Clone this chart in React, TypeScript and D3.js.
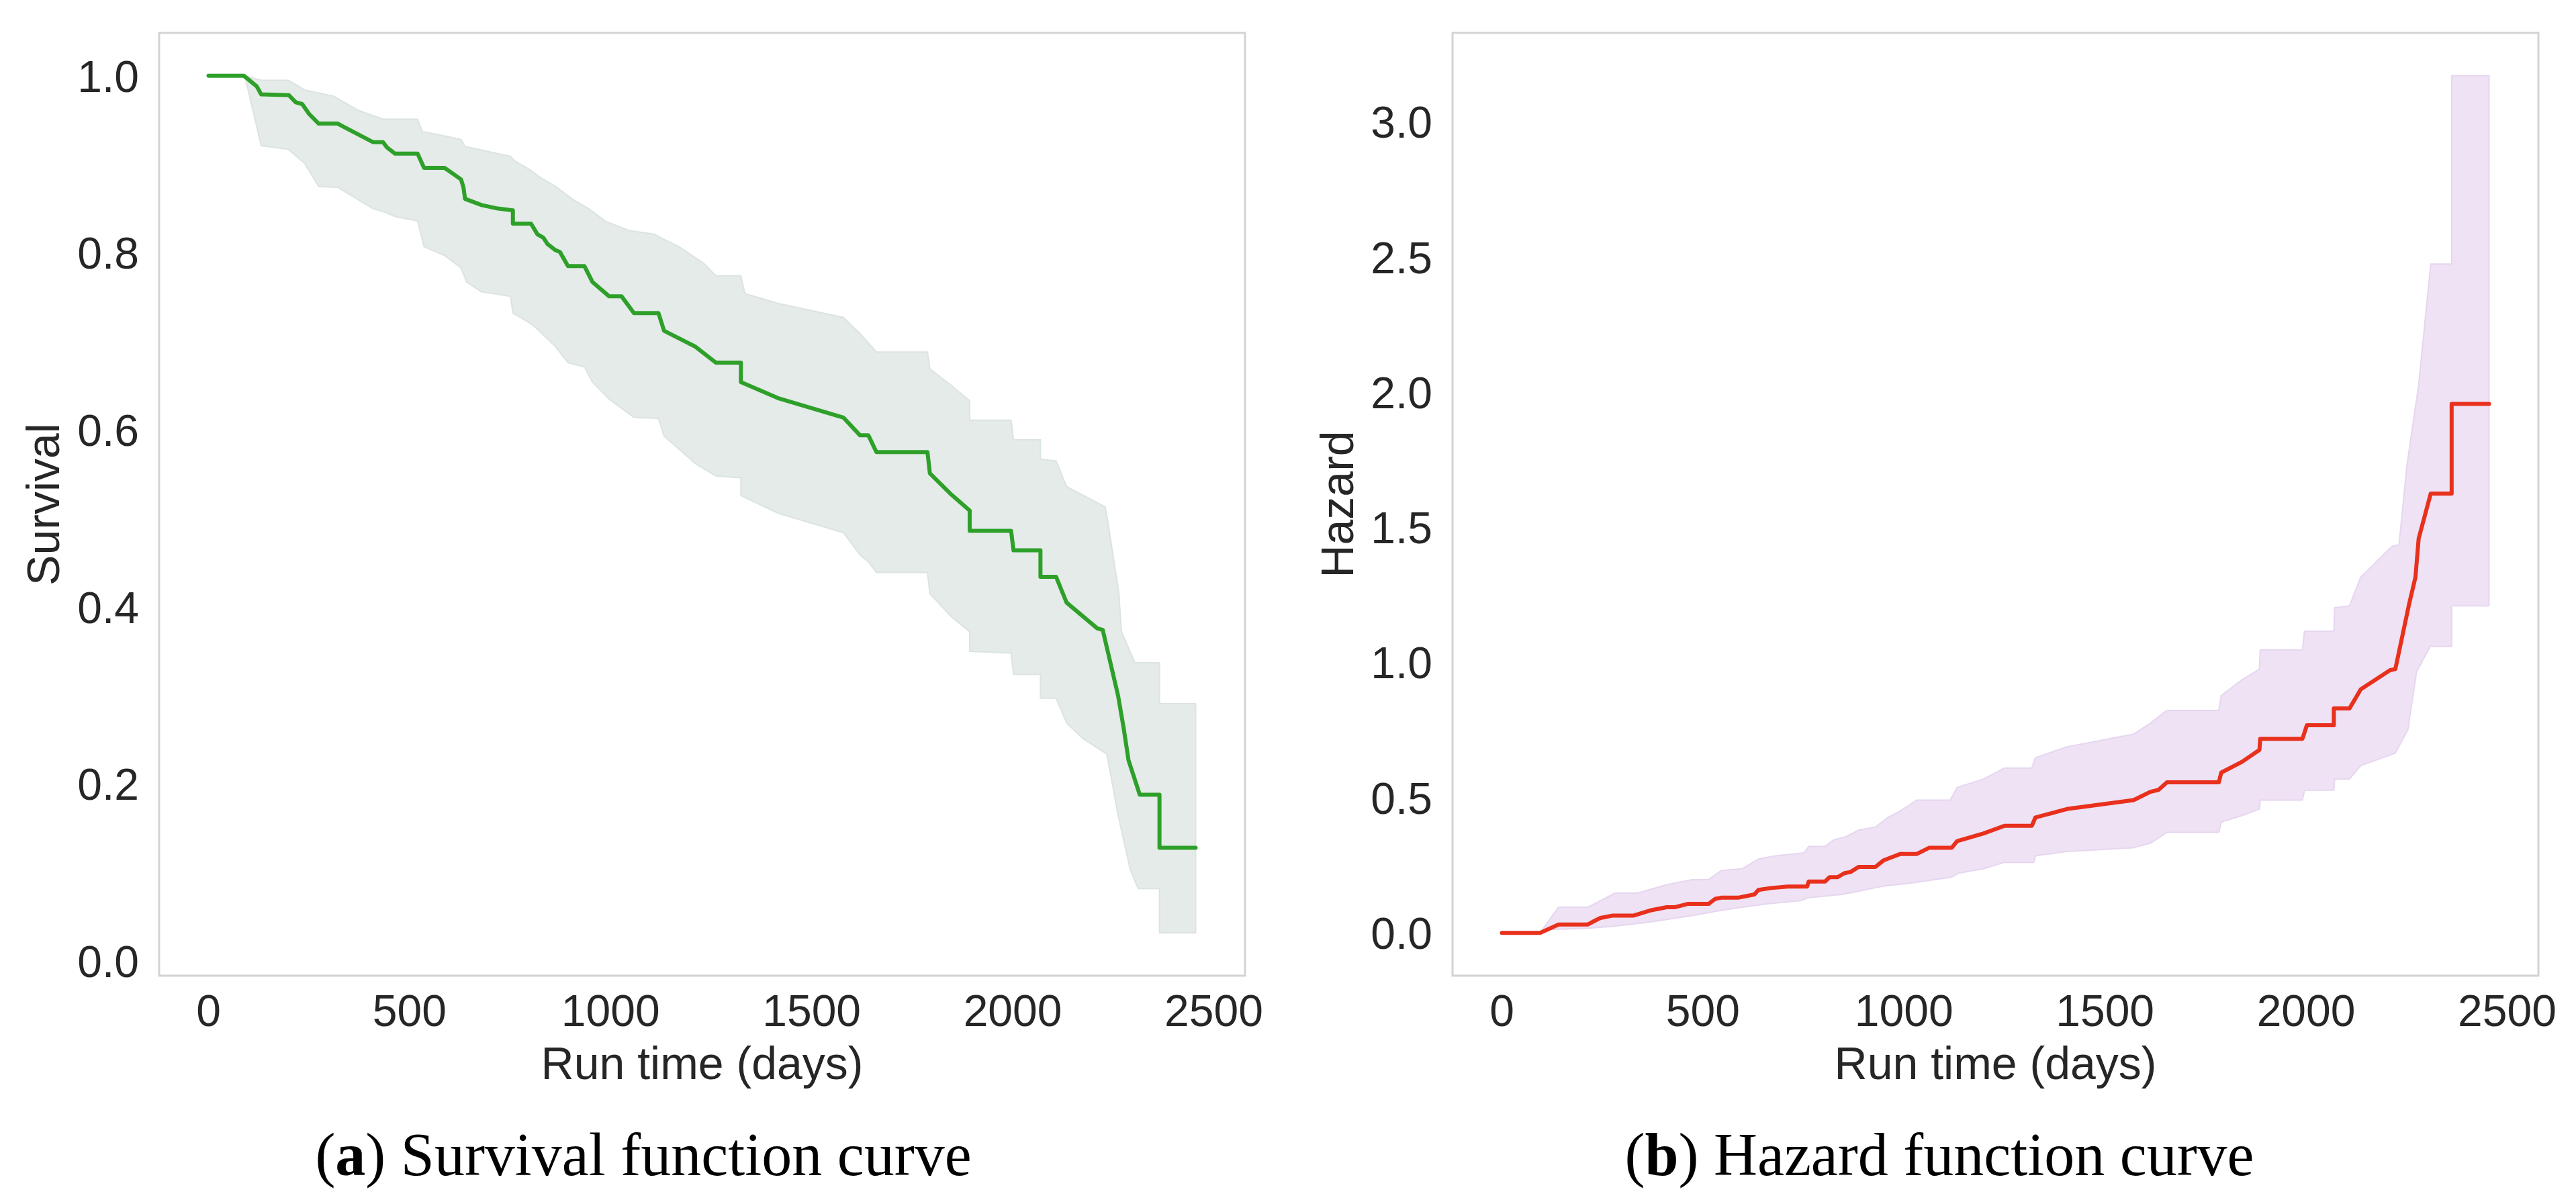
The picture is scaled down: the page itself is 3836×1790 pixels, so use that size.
import React from 'react';
import * as d3 from 'd3';

type Pt = [number, number];

// ---- Data (run time in days, value) ----
const survivalLine: Pt[] = [
  [0, 1.0], [88, 1.0], [120, 0.988], [131, 0.979], [200, 0.978], [217, 0.970], [233, 0.968], [250, 0.957],
  [274, 0.946], [321, 0.946], [409, 0.925], [434, 0.925], [444, 0.919], [464, 0.912], [520, 0.912],
  [536, 0.896], [587, 0.896], [628, 0.883], [634, 0.874], [638, 0.861], [679, 0.854], [720, 0.850],
  [757, 0.848], [757, 0.833], [802, 0.833], [818, 0.821], [833, 0.817], [843, 0.810], [863, 0.803],
  [874, 0.801], [894, 0.785], [935, 0.785], [955, 0.767], [996, 0.751], [1027, 0.751], [1058, 0.732],
  [1119, 0.732], [1133, 0.712], [1211, 0.694], [1262, 0.676], [1324, 0.676], [1324, 0.654], [1416, 0.636],
  [1579, 0.614], [1620, 0.594], [1641, 0.594], [1661, 0.575], [1788, 0.575], [1794, 0.551], [1845, 0.528],
  [1893, 0.509], [1893, 0.486], [1996, 0.486], [2002, 0.464], [2069, 0.464], [2069, 0.434], [2108, 0.434],
  [2134, 0.405], [2210, 0.376], [2224, 0.374], [2262, 0.300], [2276, 0.263], [2288, 0.227], [2316, 0.188],
  [2365, 0.188], [2365, 0.128], [2455, 0.128],
];
const survivalUpper: Pt[] = [
  [90, 1.0], [131, 0.995], [198, 0.995], [239, 0.984], [311, 0.977], [372, 0.961], [434, 0.951], [520, 0.951],
  [532, 0.937], [577, 0.933], [628, 0.928], [638, 0.920], [751, 0.909], [761, 0.904], [802, 0.893],
  [822, 0.886], [863, 0.875], [904, 0.861], [945, 0.850], [986, 0.836], [1047, 0.825], [1109, 0.821],
  [1125, 0.817], [1170, 0.807], [1232, 0.788], [1262, 0.774], [1324, 0.774], [1334, 0.754], [1416, 0.743],
  [1579, 0.727], [1620, 0.709], [1661, 0.688], [1788, 0.688], [1794, 0.669], [1845, 0.651], [1893, 0.633],
  [1893, 0.611], [1996, 0.611], [2002, 0.589], [2069, 0.589], [2069, 0.567], [2108, 0.565], [2134, 0.536],
  [2230, 0.513], [2237, 0.495], [2264, 0.416], [2270, 0.373], [2304, 0.337], [2365, 0.337], [2365, 0.291],
  [2455, 0.291],
];
const survivalLower: Pt[] = [
  [90, 1.0], [117, 0.948], [131, 0.921], [198, 0.917], [239, 0.901], [274, 0.875], [321, 0.874], [409, 0.850],
  [438, 0.846], [464, 0.841], [520, 0.836], [536, 0.807], [587, 0.797], [628, 0.783], [642, 0.767],
  [679, 0.756], [751, 0.751], [757, 0.732], [802, 0.720], [822, 0.712], [863, 0.694], [894, 0.676],
  [935, 0.671], [955, 0.654], [996, 0.635], [1058, 0.614], [1119, 0.613], [1133, 0.593], [1211, 0.562],
  [1262, 0.548], [1324, 0.546], [1324, 0.526], [1416, 0.506], [1579, 0.484], [1620, 0.459], [1641, 0.451],
  [1661, 0.439], [1788, 0.439], [1794, 0.415], [1845, 0.390], [1893, 0.372], [1893, 0.350], [1996, 0.348],
  [2002, 0.324], [2069, 0.324], [2069, 0.297], [2108, 0.297], [2134, 0.269], [2176, 0.251], [2210, 0.241],
  [2234, 0.234], [2262, 0.165], [2292, 0.104], [2312, 0.082], [2365, 0.082], [2365, 0.032], [2455, 0.032],
];

const hazardLine: Pt[] = [
  [0, 0], [95, 0], [131, 0.024], [141, 0.031], [214, 0.031], [234, 0.047], [245, 0.055], [276, 0.064],
  [328, 0.064], [369, 0.083], [410, 0.095], [431, 0.095], [462, 0.107], [514, 0.107], [531, 0.126],
  [545, 0.130], [587, 0.130], [628, 0.142], [638, 0.159], [670, 0.166], [711, 0.171], [759, 0.171],
  [763, 0.190], [804, 0.190], [815, 0.206], [835, 0.206], [852, 0.221], [867, 0.225], [887, 0.244],
  [929, 0.244], [949, 0.268], [991, 0.292], [1032, 0.292], [1063, 0.315], [1119, 0.315], [1132, 0.339],
  [1198, 0.368], [1250, 0.396], [1318, 0.396], [1327, 0.427], [1405, 0.458], [1571, 0.491], [1613, 0.522],
  [1633, 0.529], [1654, 0.557], [1783, 0.557], [1789, 0.593], [1841, 0.633], [1884, 0.677], [1886, 0.718],
  [1991, 0.718], [2002, 0.768], [2069, 0.768], [2069, 0.830], [2108, 0.830], [2136, 0.901], [2209, 0.972],
  [2222, 0.976], [2256, 1.215], [2272, 1.316], [2280, 1.459], [2310, 1.625], [2362, 1.625], [2362, 1.957],
  [2455, 1.957],
];
const hazardUpper: Pt[] = [
  [95, 0], [141, 0.095], [214, 0.095], [282, 0.147], [338, 0.147], [410, 0.178], [473, 0.197], [514, 0.197],
  [545, 0.230], [597, 0.237], [638, 0.273], [680, 0.285], [752, 0.296], [763, 0.320], [804, 0.320],
  [825, 0.344], [856, 0.356], [887, 0.380], [929, 0.391], [960, 0.427], [991, 0.451], [1032, 0.491],
  [1115, 0.491], [1132, 0.538], [1198, 0.569], [1250, 0.610], [1318, 0.610], [1327, 0.648], [1405, 0.688],
  [1571, 0.735], [1613, 0.776], [1654, 0.823], [1783, 0.823], [1789, 0.878], [1841, 0.937], [1884, 0.975],
  [1886, 1.047], [1991, 1.047], [1996, 1.116], [2069, 1.116], [2071, 1.203], [2108, 1.210], [2136, 1.316],
  [2214, 1.430], [2231, 1.435], [2251, 1.732], [2280, 2.028], [2310, 2.474], [2362, 2.474], [2362, 3.171],
  [2455, 3.171],
];
const hazardLower: Pt[] = [
  [95, 0], [120, 0.012], [214, 0.017], [276, 0.024], [369, 0.040], [473, 0.064], [545, 0.083], [597, 0.095],
  [659, 0.107], [742, 0.119], [763, 0.130], [846, 0.142], [887, 0.154], [949, 0.173], [1012, 0.183],
  [1119, 0.206], [1136, 0.221], [1198, 0.237], [1250, 0.261], [1323, 0.261], [1327, 0.285], [1405, 0.301],
  [1571, 0.315], [1613, 0.332], [1654, 0.372], [1783, 0.372], [1789, 0.410], [1841, 0.434], [1884, 0.458],
  [1886, 0.491], [1991, 0.491], [1996, 0.528], [2069, 0.528], [2071, 0.569], [2108, 0.569], [2136, 0.619],
  [2222, 0.665], [2253, 0.751], [2275, 0.967], [2309, 1.060], [2362, 1.060], [2362, 1.210], [2455, 1.210],
];

const xTicks = [0, 500, 1000, 1500, 2000, 2500];
const survivalTicks = [0.0, 0.2, 0.4, 0.6, 0.8, 1.0];
const hazardTicks = [0.0, 0.5, 1.0, 1.5, 2.0, 2.5, 3.0];

const xLabel = 'Run time (days)';

const SANS = '"Liberation Sans", Arial, Helvetica, sans-serif';
const SERIF = '"Liberation Serif", "Times New Roman", serif';
const TEXT = '#262626';

interface PanelProps {
  left: number;
  right: number;
  top: number;
  bottom: number;
  line: Pt[];
  upper: Pt[];
  lower: Pt[];
  yTicks: number[];
  yLabel: string;
  yLabelX: number;
  lineColor: string;
  fillColor: string;
  edgeColor: string;
}

function pad(ext: [number, number]): [number, number] {
  const r = ext[1] - ext[0];
  return [ext[0] - 0.05 * r, ext[1] + 0.05 * r];
}

function Panel(p: PanelProps) {
  const all = [...p.line, ...p.upper, ...p.lower];
  const xExt = d3.extent(all, (d) => d[0]) as [number, number];
  const yExt = d3.extent(all, (d) => d[1]) as [number, number];
  const x = d3.scaleLinear().domain(pad(xExt)).range([p.left, p.right]);
  const y = d3.scaleLinear().domain(pad(yExt)).range([p.bottom, p.top]);
  const lineGen = d3.line<Pt>().x((d) => x(d[0])).y((d) => y(d[1]));
  const band = lineGen([...p.upper, ...p.lower.slice().reverse()]) + 'Z';
  const cx = (p.left + p.right) / 2;
  const cy = (p.top + p.bottom) / 2;
  return (
    <g>
      <path d={band} fill={p.fillColor} stroke={p.edgeColor} strokeWidth={2} strokeLinejoin="round" />
      <path d={lineGen(p.line) || ''} fill="none" stroke={p.lineColor} strokeWidth={6}
        strokeLinejoin="round" strokeLinecap="round" />
      <rect x={p.left} y={p.top} width={p.right - p.left} height={p.bottom - p.top}
        fill="none" stroke="#d3d3d3" strokeWidth={3} />
      {xTicks.map((t) => (
        <text key={'x' + t} x={x(t)} y={p.bottom + 75} textAnchor="middle"
          fontFamily={SANS} fontSize={66} fill={TEXT}>{t}</text>
      ))}
      {p.yTicks.map((t) => (
        <text key={'y' + t} x={p.left - 30} y={y(t)} dy="0.36em" textAnchor="end"
          fontFamily={SANS} fontSize={66} fill={TEXT}>{t.toFixed(1)}</text>
      ))}
      <text x={cx} y={p.bottom + 154} textAnchor="middle" fontFamily={SANS} fontSize={68} fill={TEXT}>
        {xLabel}
      </text>
      <text transform={`translate(${p.yLabelX},${cy}) rotate(-90)`} textAnchor="middle"
        fontFamily={SANS} fontSize={68} fill={TEXT}>{p.yLabel}</text>
    </g>
  );
}

export default function App() {
  const W = 3836;
  const H = 1790;
  const top = 49;
  const bottom = 1453;
  return (
    <svg width={W} height={H} viewBox={`0 0 ${W} ${H}`}
      style={{ position: 'absolute', left: 0, top: 0, display: 'block', background: '#ffffff' }}>
      <rect x={0} y={0} width={W} height={H} fill="#ffffff" />
      <Panel left={237} right={1854} top={top} bottom={bottom}
        line={survivalLine} upper={survivalUpper} lower={survivalLower}
        yTicks={survivalTicks} yLabel="Survival" yLabelX={88}
        lineColor="#2ea02a" fillColor="#e4ebe8" edgeColor="#dbe4e0" />
      <Panel left={2163} right={3780} top={top} bottom={bottom}
        line={hazardLine} upper={hazardUpper} lower={hazardLower}
        yTicks={hazardTicks} yLabel="Hazard" yLabelX={2015}
        lineColor="#e8301c" fillColor="#eee2f4" edgeColor="#e6d6f0" />
      <text x={958} y={1750} textAnchor="middle" fontFamily={SERIF} fontSize={90} fill="#000">
        (<tspan fontWeight="bold">a</tspan>) Survival function curve
      </text>
      <text x={2888} y={1750} textAnchor="middle" fontFamily={SERIF} fontSize={90} fill="#000">
        (<tspan fontWeight="bold">b</tspan>) Hazard function curve
      </text>
    </svg>
  );
}
